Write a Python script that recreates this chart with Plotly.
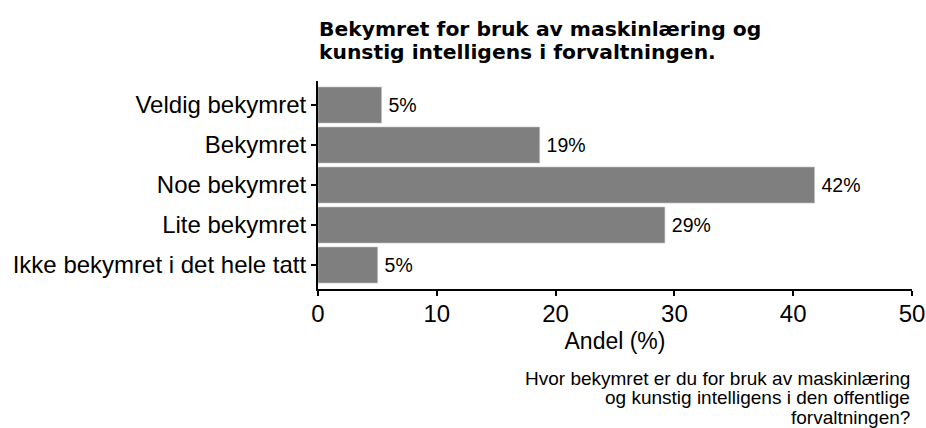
import plotly.graph_objects as go

categories = ["Veldig bekymret", "Bekymret", "Noe bekymret", "Lite bekymret",
              "Ikke bekymret i det hele tatt"]
values = [5.35, 18.66, 41.8, 29.2, 5.02]
labels = ["5%", "19%", "42%", "29%", "5%"]
x_ticks = [0, 10, 20, 30, 40, 50]
title_lines = ["Bekymret for bruk av maskinlæring og",
               "kunstig intelligens i forvaltningen."]
caption_lines = ["Hvor bekymret er du for bruk av maskinlæring",
                 "og kunstig intelligens i den offentlige",
                 "forvaltningen?"]

FONT = "Liberation Sans, Arial, Helvetica, sans-serif"
TITLE_FONT = "DejaVu Sans, Liberation Sans, Arial, sans-serif"

W, H = 926, 428
PLOT_LEFT, PLOT_RIGHT = 318.2, 911.7
PLOT_TOP, PLOT_BOTTOM = 81, 289


def py2paper(py):
    return (PLOT_BOTTOM - py) / (PLOT_BOTTOM - PLOT_TOP)


fig = go.Figure()
fig.add_trace(go.Bar(
    y=categories, x=values, orientation="h",
    marker=dict(color="#7f7f7f", line=dict(color="#c4c4c4", width=0.6)),
    text=labels, texttemplate="\u2009%{text}", textposition="outside",
    cliponaxis=False,
    textfont=dict(size=19.5, color="black", family=FONT),
    width=0.9,
    hoverinfo="skip",
))

fig.update_layout(
    width=W, height=H,
    margin=dict(l=PLOT_LEFT, r=W - PLOT_RIGHT, t=PLOT_TOP, b=H - PLOT_BOTTOM,
                pad=0),
    paper_bgcolor="white", plot_bgcolor="white",
    font=dict(family=FONT, color="black"),
    showlegend=False,
    bargap=0.1,
)
fig.update_xaxes(
    range=[0, 50], tickvals=x_ticks, ticks="outside", ticklen=5, tickwidth=2,
    tickcolor="black", showline=True, linecolor="black", linewidth=2,
    showgrid=False, zeroline=False, tickfont=dict(size=24, color="black"),
    ticklabelstandoff=-3,
    title=dict(text="Andel (%)", font=dict(size=23, color="black"), standoff=7),
    automargin=False,
)
fig.update_yaxes(
    categoryorder="array", categoryarray=categories[::-1],
    range=[-0.6, 4.6], ticks="outside", ticklen=5, tickwidth=2,
    tickcolor="black", showline=True, linecolor="black", linewidth=2,
    showgrid=False, zeroline=False, tickfont=dict(size=24, color="black"),
    automargin=False,
)

title_size = 20.3
for line, base in zip(title_lines, [35, 58]):
    fig.add_annotation(
        text="<b>" + line + "</b>", xref="paper", yref="paper",
        x=0, y=py2paper(base - 0.3 * title_size), xshift=-1,
        xanchor="left", yanchor="middle", showarrow=False,
        font=dict(size=title_size, color="black", family=TITLE_FONT),
    )

cap_size = 19
for line, base in zip(caption_lines, [385, 404.5, 424]):
    fig.add_annotation(
        text=line, xref="paper", yref="paper",
        x=1, y=py2paper(base - 0.35 * cap_size),
        xanchor="right", yanchor="middle", showarrow=False,
        font=dict(size=cap_size, color="black", family=FONT),
    )

# remove the browser's default 8px body margin so the figure fills the window
fig.write_html("out.html",
               config={"displayModeBar": False},
               post_script="document.body.style.margin='0';"
                           "document.body.style.overflow='hidden';")
